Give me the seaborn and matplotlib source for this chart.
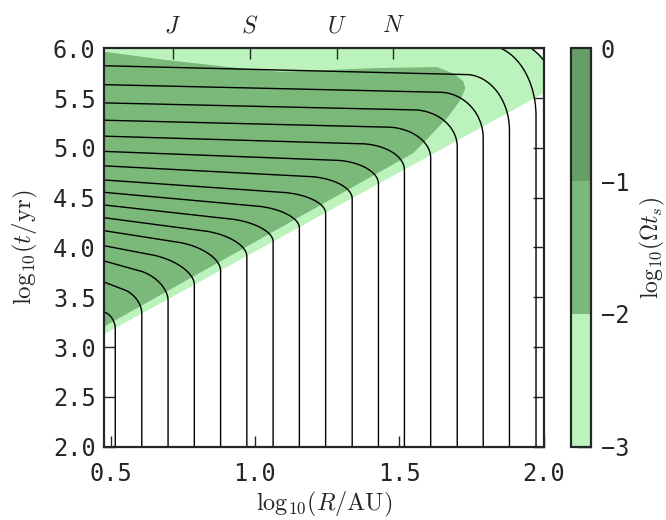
import numpy as np
import pandas as pd
import matplotlib
matplotlib.use("Agg")
import matplotlib.pyplot as plt
import seaborn as sns
from matplotlib.colors import ListedColormap, BoundaryNorm
from matplotlib.cm import ScalarMappable

# ---- data ----
# black curves (bottom to top): vertical position, height at left edge,
# slope of upper branch, size of the rounded corner (x and y)
x_vertical = [0.516, 0.608, 0.699, 0.790, 0.881, 0.972, 1.063, 1.154, 1.245,
              1.337, 1.428, 1.518, 1.609, 1.701, 1.791, 1.882, 1.974, 2.066]
y_left = [3.355, 3.653, 3.865, 4.018, 4.169, 4.299, 4.427, 4.554, 4.678,
          4.820, 4.965, 5.118, 5.278, 5.452, 5.635, 5.825, 6.125, 6.18]
slope = [-1.5, -1.1, -0.8, -0.55, -0.45, -0.38, -0.32, -0.26, -0.20,
         -0.15, -0.11, -0.085, -0.07, -0.065, -0.065, -0.07, -0.07, -0.07]
corner_dx = [0.03, 0.06, 0.10, 0.15, 0.15, 0.15, 0.15, 0.15, 0.15,
             0.15, 0.15, 0.15, 0.15, 0.15, 0.15, 0.15, 0.17, 0.19]
corner_dy = [0.11, 0.17, 0.22, 0.22, 0.22, 0.20, 0.18, 0.18, 0.18,
             0.20, 0.22, 0.25, 0.30, 0.36, 0.45, 0.55, 0.70, 0.79]

# filled regions of log10(Omega t_s)
light_x = [0.477, 2.0, 2.0, 1.962, 0.477]
light_y = [3.129, 5.548, 5.915, 6.0, 6.0]
mid_x = [0.477, 1.55, 1.60, 1.666, 1.712, 1.729, 1.722, 1.689, 1.631, 1.40,
         1.227, 1.087, 0.949, 0.694, 0.477]
mid_y = [3.205, 4.95, 5.10, 5.30, 5.48, 5.60, 5.67, 5.745, 5.812, 5.80,
         5.778, 5.765, 5.80, 5.882, 5.966]

level_bounds = [-3, -2, -1, 0]
level_colors = ["#bcf3bc", "#7ab97a", "#659f65"]
cbar_ticks = [0, -1, -2, -3]

planet_names = ["$J$", "$S$", "$U$", "$N$"]
planet_au = [5.2, 9.58, 19.2, 30.1]

x_ticks = [0.5, 1.0, 1.5, 2.0]
y_ticks = [2.0, 2.5, 3.0, 3.5, 4.0, 4.5, 5.0, 5.5, 6.0]
x_lim = (np.log10(3.0), 2.0)
y_lim = (2.0, 6.0)

# ---- style ----
sns.set_style("ticks")
plt.rcParams["font.family"] = ["DejaVu Sans Mono", "DejaVu Sans"]
plt.rcParams["mathtext.fontset"] = "cm"
plt.rcParams["axes.unicode_minus"] = True

fig = plt.figure(figsize=(6.66, 5.2), dpi=100)
ax = fig.add_axes([0.1562, 0.1410, 0.6599, 0.7661])
cax = fig.add_axes([0.8574, 0.1410, 0.0300, 0.7661])

# filled levels
ax.fill(light_x, light_y, color=level_colors[0], lw=0, zorder=1)
ax.fill(mid_x, mid_y, color=level_colors[1], lw=0, zorder=2)

# black curves
rows = []
theta = np.linspace(0, np.pi / 2, 80)
x0 = x_lim[0]
for i, (xv, yl, s, rx, ry) in enumerate(zip(x_vertical, y_left, slope, corner_dx, corner_dy)):
    xs_line = np.linspace(x0, xv - rx, 60)
    xs_c = xv - rx + rx * np.sin(theta)
    ys_line = yl + s * (xs_line - x0)
    ys_c = yl + s * (xs_c - x0) - ry * (1 - np.cos(theta))
    xs = np.concatenate([xs_line, xs_c, [xv]])
    ys = np.concatenate([ys_line, ys_c, [1.5]])
    keep = xs >= x0 - 1e-9
    for k, (a, b) in enumerate(zip(xs[keep], ys[keep])):
        rows.append({"curve": i, "order": k, "x": a, "y": b})
df = pd.DataFrame(rows)
sns.lineplot(data=df, x="x", y="y", units="curve", estimator=None, sort=False,
             color="black", lw=1.0, ax=ax, zorder=3, legend=False)

ax.set_xlim(*x_lim)
ax.set_ylim(*y_lim)
ax.set_xticks(x_ticks)
ax.set_yticks(y_ticks)
ax.set_xticklabels([f"{v:.1f}" for v in x_ticks])
ax.set_yticklabels([f"{v:.1f}" for v in y_ticks])
ax.tick_params(direction="in", length=8, width=1.0, labelsize=17,
               top=False, right=True, bottom=True, left=True)
ax.tick_params(axis="x", pad=11)
ax.tick_params(axis="y", pad=6)
ax.set_xlabel(r"$\mathrm{log}_{10}(R/\mathrm{AU})$", fontsize=17.5, labelpad=3)
ax.set_ylabel(r"$\mathrm{log}_{10}(t/\mathrm{yr})$", fontsize=18, labelpad=9)
for sp in ax.spines.values():
    sp.set_linewidth(1.6)
    sp.set_visible(True)
    sp.set_zorder(5)

# planets on top axis
ax2 = ax.twiny()
ax2.set_xlim(*x_lim)
ax2.set_xticks(np.log10(planet_au))
ax2.set_xticklabels(planet_names, fontsize=17)
ax2.tick_params(direction="in", length=8, width=1.0, pad=8)
for sp in ax2.spines.values():
    sp.set_visible(False)

# colorbar
cmap = ListedColormap(level_colors)
norm = BoundaryNorm(level_bounds, cmap.N)
sm = ScalarMappable(norm=norm, cmap=cmap)
cb = fig.colorbar(sm, cax=cax, ticks=cbar_ticks)
cb.ax.tick_params(direction="in", length=10, width=1.0, labelsize=17, pad=7)
cb.outline.set_linewidth(1.6)
cb.set_label(r"$\mathrm{log}_{10}(\Omega t_s)$", fontsize=17, labelpad=6)

fig.savefig("out.png", dpi=100)
